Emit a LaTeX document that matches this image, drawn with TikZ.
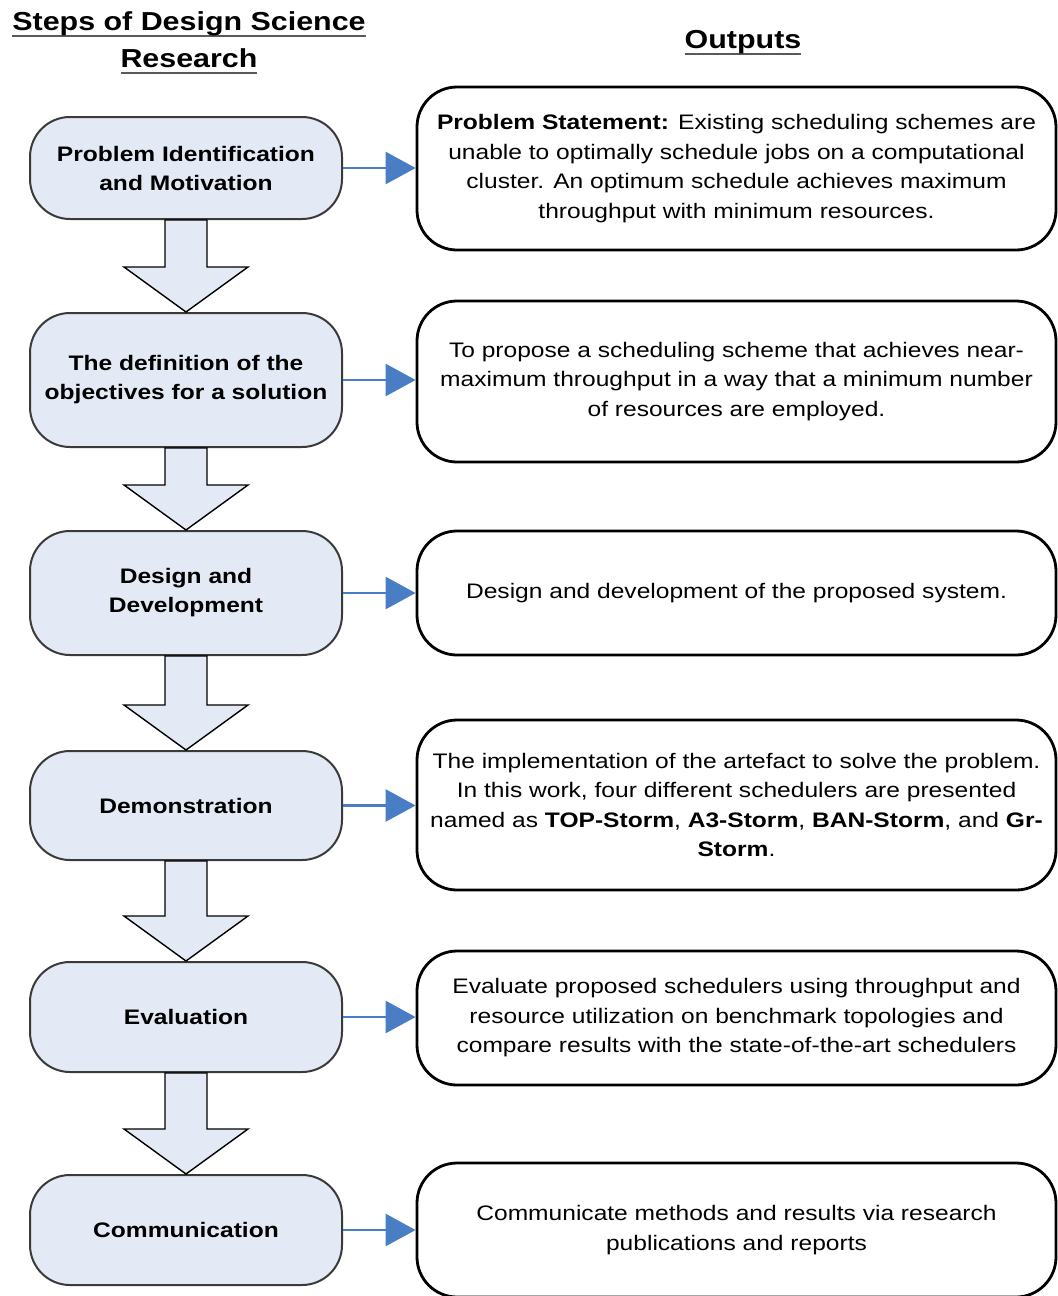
\documentclass[tikz,border=0pt]{standalone}
\usepackage{fontspec}
\setmainfont[FakeStretch=1.17]{Liberation Sans}
\usetikzlibrary{arrows.meta,calc}
\definecolor{stepfill}{HTML}{E4EAF5}
\definecolor{linkblue}{HTML}{4A7EC4}
\definecolor{stepline}{HTML}{3A3A3A}
\definecolor{ulgray}{HTML}{5A5A5A}
\newcommand{\hdul}[1]{\setbox0\hbox{#1}\rlap{\color{ulgray}\rule[-3.2pt]{\wd0}{1.1pt}}\box0}
\begin{document}
\begin{tikzpicture}[x=0.5pt,y=-0.5pt,
 stepbox/.style={draw=stepline, line width=1pt, fill=stepfill, rounded corners=20pt, minimum width=156pt, align=center, font=\fontsize{10.5}{14.5}\selectfont\bfseries, inner sep=0pt},
 outbox/.style={draw=black, line width=1.4pt, rounded corners=20pt, minimum width=319.5pt, align=center, font=\fontsize{10.5}{14.75}\selectfont, inner sep=0pt},
 flowarrow/.style={draw=black, line width=0.7pt, fill=stepfill, line join=miter},
 link/.style={draw=linkblue, line width=1.4pt, -{Triangle[length=15pt,width=16pt]}},
 heading/.style={font=\fontsize{13}{18.5}\selectfont\bfseries, align=center}]
\useasboundingbox (0,0) rectangle (1058,1296);

\node[heading] (T1) at (189,43) {\hdul{Steps of Design Science}\\\hdul{Research}};
\node[heading] (T2) at (743,43) {\hdul{Outputs}};

\node[stepbox, minimum height=51pt] (L1) at (186,168) {Problem Identification\\and Motivation};
\node[stepbox, minimum height=67pt] (L2) at (186,380) {The definition of the\\objectives for a solution};
\node[stepbox, minimum height=62pt] (L3) at (186,593) {Design and\\Development};
\node[stepbox, minimum height=54.5pt] (L4) at (186,805.5) {Demonstration};
\node[stepbox, minimum height=55pt] (L5) at (186,1017) {Evaluation};
\node[stepbox, minimum height=55pt] (L6) at (186,1230) {Communication};

\node[outbox, minimum height=81.5pt] (R1) at (736.5,168.5) {\textbf{Problem Statement:} Existing scheduling schemes are\\unable to optimally schedule jobs on a computational\\cluster. An optimum schedule achieves maximum\\throughput with minimum resources.};
\node[outbox, minimum height=80.5pt] (R2) at (736.5,381.5) {To propose a scheduling scheme that achieves near-\\maximum throughput in a way that a minimum number\\of resources are employed.};
\node[outbox, minimum height=62pt] (R3) at (736.5,593) {Design and development of the proposed system.};
\node[outbox, minimum height=85pt] (R4) at (736.5,805) {The implementation of the artefact to solve the problem.\\In this work, four different schedulers are presented\\named as \textbf{TOP-Storm}, \textbf{A3-Storm}, \textbf{BAN-Storm}, and \textbf{Gr-}\\\textbf{Storm}.};
\node[outbox, minimum height=67pt] (R5) at (736.5,1018) {Evaluate proposed schedulers using throughput and\\resource utilization on benchmark topologies and\\compare results with the state-of-the-art schedulers};
\node[outbox, minimum height=67pt] (R6) at (736.5,1230) {Communicate methods and results via research\\publications and reports};

\foreach \a/\b in {L1/L2,L2/L3,L3/L4,L4/L5,L5/L6}
  \draw[flowarrow] ($(\a.south)+(-21,0)$) -- ($(\a.south)+(21,0)$) -- ($(\b.north)+(21,-45)$) -- ($(\b.north)+(62,-45)$) -- (\b.north) -- ($(\b.north)+(-62,-45)$) -- ($(\b.north)+(-21,-45)$) -- cycle;

\foreach \i in {1,...,6}
  \draw[link] (L\i.east) -- (L\i.east -| R\i.west);
\end{tikzpicture}
\end{document}
